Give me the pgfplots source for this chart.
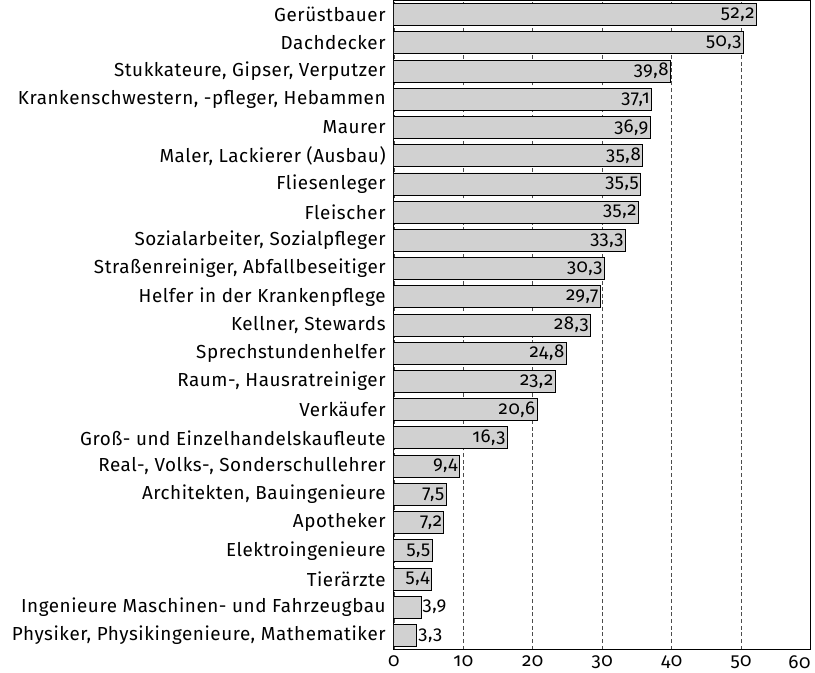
\documentclass[border=0pt]{standalone}
\usepackage{fontspec}
\setmainfont{Fira Sans}[Numbers=OldStyle, LetterSpace=3]
\usepackage{pgfplots}
\usepackage{pgfplotstable}
\pgfplotsset{compat=1.18}
\pgfplotstableread{
y x lab
22 52.2 52,2
21 50.3 50,3
20 39.8 39,8
19 37.1 37,1
18 36.9 36,9
17 35.8 35,8
16 35.5 35,5
15 35.2 35,2
14 33.3 33,3
13 30.3 30,3
12 29.7 29,7
11 28.3 28,3
10 24.8 24,8
9 23.2 23,2
8 20.6 20,6
7 16.3 16,3
6 9.4 9,4
5 7.5 7,5
4 7.2 7,2
3 5.5 5,5
2 5.4 5,4
}\bigtable
\pgfplotstableread{
y x lab
1 3.9 3,9
0 3.3 3,3
}\smalltable
\begin{document}
\begin{tikzpicture}
\begin{axis}[
  scale only axis,
  width=314pt, height=489pt,
  xbar, bar width=0.78,
  bar shift=0pt,
  xmin=0, xmax=60,
  ymin=-0.5, ymax=22.5,
  xtick={0,10,...,60},
  xticklabels={0,10,20,30,40,50,{\makebox[0pt][r]{60}}},
  ytick={0,...,22},
  yticklabels={{Physiker, Physikingenieure, Mathematiker},
    {Ingenieure Maschinen- und Fahrzeugbau},
    {Tierärzte},
    {Elektroingenieure},
    {Apotheker},
    {Architekten, Bauingenieure},
    {Real-, Volks-, Sonderschullehrer},
    {Groß- und Einzelhandelskaufleute},
    {Verkäufer},
    {Raum-, Hausratreiniger},
    {Sprechstundenhelfer},
    {Kellner, Stewards},
    {Helfer in der Krankenpflege},
    {Straßenreiniger, Abfallbeseitiger},
    {Sozialarbeiter, Sozialpfleger},
    {Fleischer},
    {Fliesenleger},
    {Maler, Lackierer (Ausbau)},
    {Maurer},
    {Krankenschwestern, -pfleger, Hebammen},
    {Stukkateure, Gipser, Verputzer},
    {Dachdecker},
    {Gerüstbauer}},
  major tick length=0pt,
  xmajorgrids,
  major grid style={dash pattern=on 3pt off 2pt, black!70, line width=0.5pt},
  axis line style={line width=0.8pt},
  /pgf/number format/assume math mode=true,
  ticklabel style={font=\fontsize{14.2pt}{16pt}\selectfont},
  yticklabel style={inner xsep=6pt},
  xticklabel style={yshift=-1pt},
  point meta=explicit symbolic,
  nodes near coords,
  every node near coord/.append style={inner sep=1pt, font=\fontsize{14pt}{16pt}\selectfont},
]
\addplot[fill=black!18, draw=black, line width=0.6pt,
  every node near coord/.append style={anchor=east},
] table[x=x, y=y, meta=lab] {\bigtable};
\addplot[fill=black!18, draw=black, line width=0.6pt,
  every node near coord/.append style={anchor=west},
] table[x=x, y=y, meta=lab] {\smalltable};
\end{axis}
\path ([xshift=-3pt]current axis.outer west) ([xshift=2pt]current axis.east);
\end{tikzpicture}
\end{document}
